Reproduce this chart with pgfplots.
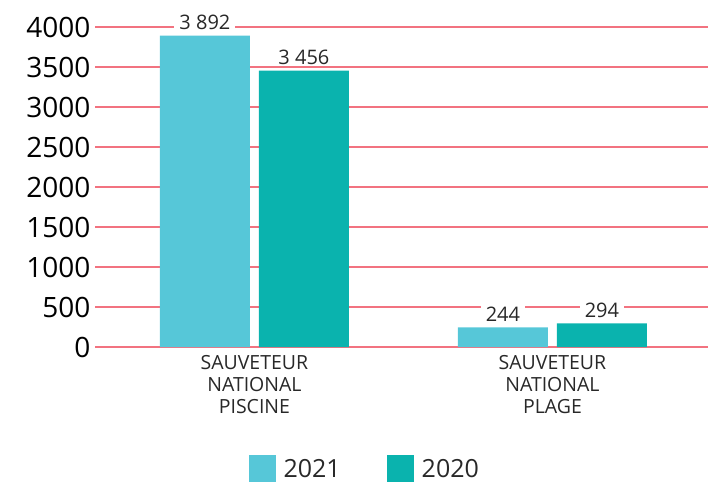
\documentclass[border=0pt]{standalone}
\usepackage{fontspec}
\setmainfont{Open Sans}
\usepackage{pgfplots}
\pgfplotsset{compat=1.18}
\definecolor{c21}{RGB}{86,199,216}
\definecolor{c20}{RGB}{10,179,174}
\definecolor{gridpink}{RGB}{242,115,128}
\definecolor{lbl}{RGB}{40,40,40}
\begin{document}
\begin{tikzpicture}[x=1pt,y=1pt]
\useasboundingbox (0,0) rectangle (708,483);
\begin{axis}[
  at={(95pt,136pt)}, anchor=south west,
  scale only axis, width=613pt, height=320pt,
  ybar=9pt, bar width=90pt,
  xmin=-0.535, xmax=1.522,
  ymin=0, ymax=4000,
  xtick={0,1},
  xticklabels={{SAUVETEUR\\NATIONAL\\PISCINE},{SAUVETEUR\\NATIONAL\\PLAGE}},
  xticklabel style={align=center, font=\fontsize{19.5}{22}\selectfont, text=lbl, yshift=-5pt},
  ytick={0,500,...,4000},
  yticklabel style={font=\fontsize{28}{30}\selectfont, text=black, xshift=-1pt},
  major tick length=0pt,
  axis line style={draw=none},
  ymajorgrids=true,
  grid style={draw=gridpink, line width=1.4pt},
  major grid style={draw=gridpink, line width=1.4pt},
  nodes near coords={\pgfmathprintnumber[1000 sep={\ }]{\pgfplotspointmeta}},
  every node near coord/.append style={font=\fontsize{20}{22}\selectfont, text=lbl, fill=white, inner ysep=1pt, inner xsep=5pt, yshift=5pt},
  legend style={at={(0.44,-0.38)}, anchor=center, draw=none, legend columns=2,
    font=\fontsize{25}{28}\selectfont, text=lbl, inner sep=0pt,
    /tikz/every even column/.append style={column sep=44pt},
    /tikz/every odd column/.append style={column sep=6pt}},
  legend image code/.code={\fill[#1] (0pt,-13pt) rectangle (27pt,14pt);},
  clip=false,
  /pgf/number format/assume math mode=true,
  /pgf/number format/1000 sep={},
]
\addplot[fill=c21, draw=none] coordinates {(0,3892) (1,244)};
\addplot[fill=c20, draw=none] coordinates {(0,3456) (1,294)};
\legend{2021,2020}
\end{axis}
\end{tikzpicture}
\end{document}
